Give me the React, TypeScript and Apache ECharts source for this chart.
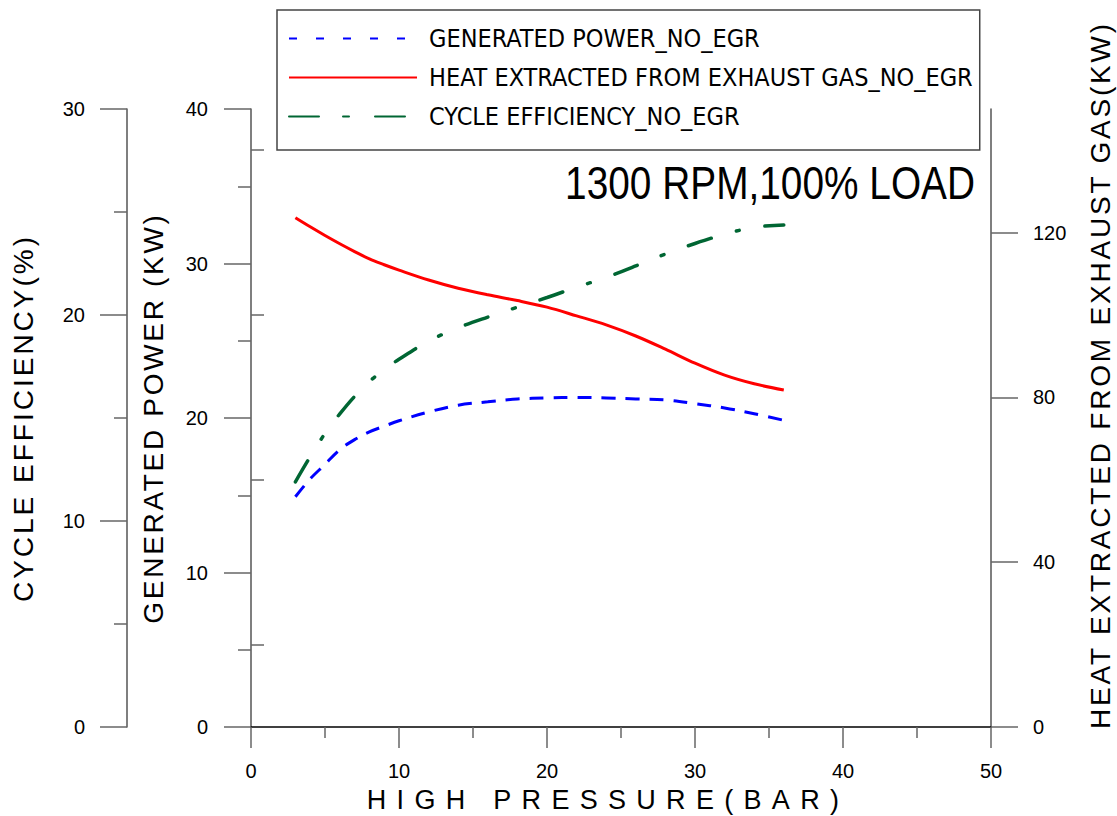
import React, { useEffect, useRef } from 'react';
import * as echarts from 'echarts';

// ---- data ----
const pressure = [3, 4, 5, 6, 7, 8, 9, 10, 12, 14, 16, 18, 20, 22, 24, 26, 28, 30, 32, 34, 36];
const generatedPower = [14.9, 16.06, 17.0, 17.95, 18.6, 19.1, 19.47, 19.82, 20.39, 20.83, 21.05, 21.23, 21.3, 21.33, 21.3, 21.23, 21.17, 20.93, 20.65, 20.28, 19.85];
const heatExtracted = [123.6, 121.4, 119.3, 117.3, 115.4, 113.6, 112.2, 110.9, 108.5, 106.5, 104.9, 103.5, 101.9, 99.8, 97.6, 94.9, 91.7, 88.3, 85.4, 83.3, 81.8];
const cycleEfficiency = [11.9, 13.12, 14.25, 15.2, 16.05, 16.77, 17.35, 17.85, 18.73, 19.38, 19.9, 20.38, 20.85, 21.35, 21.83, 22.38, 22.96, 23.47, 23.92, 24.26, 24.37];

const seriesNames = [
  'GENERATED POWER_NO_EGR',
  'HEAT EXTRACTED FROM EXHAUST GAS_NO_EGR',
  'CYCLE EFFICIENCY_NO_EGR',
];
const chartTitle = '1300 RPM,100% LOAD';
const xTitle = 'HIGH PRESSURE(BAR)';
const powerTitle = 'GENERATED POWER (KW)';
const effTitle = 'CYCLE EFFICIENCY(%)';
const heatTitle = 'HEAT EXTRACTED FROM EXHAUST GAS(KW)';

const heatLabelValues = [0, 40, 80, 120];
const heatMinorValues = [20, 60, 100, 140];

const NARROW = "'Liberation Sans Narrow', 'Arial Narrow', 'DejaVu Sans Condensed', sans-serif";
const SANS = "'Liberation Sans', Arial, sans-serif";

const letterSpacing: Record<string, number> = {
  [xTitle]: 10.3,
  [effTitle]: 3,
  [powerTitle]: 2.7,
  [heatTitle]: 2.8,
};

const pairs = (ys: number[]) => pressure.map((x, i) => [x, ys[i]]);

const AXIS_COLOR = '#555';
const TICK_COLOR = '#666';
const labelStyle = { fontFamily: SANS, fontSize: 20, color: '#000' };
const nameStyle = { fontFamily: SANS, fontSize: 28, color: '#000' };

export default function App() {
  const ref = useRef<HTMLDivElement>(null);

  useEffect(() => {
    const el = ref.current!;
    const chart = echarts.init(el, undefined, { renderer: 'svg' });

    const option: any = {
      animation: false,
      backgroundColor: '#fff',
      legend: {
        orient: 'vertical',
        left: 277,
        top: 10,
        padding: [16, 7, 21, 11],
        itemWidth: 128,
        itemHeight: 14,
        itemGap: 14,
        borderColor: '#444',
        borderWidth: 1.5,
        backgroundColor: '#fff',
        itemStyle: { opacity: 0, borderWidth: 0 },
        textStyle: { fontFamily: NARROW, fontSize: 25, color: '#000', lineHeight: 25, padding: [0, 0, 0, 7] },
        data: [
          { name: seriesNames[0], lineStyle: { type: [8, 19] } },
          { name: seriesNames[1] },
          { name: seriesNames[2], lineStyle: { type: [30, 24, 6, 26] } },
        ],
      },
      grid: { left: 251, right: 126, top: 109, bottom: 89, containLabel: false, outerBoundsMode: 'none' },
      xAxis: {
        type: 'value',
        min: 0,
        max: 50,
        interval: 10,
        name: xTitle,
        nameLocation: 'middle',
        nameGap: 59,
        nameTextStyle: { ...nameStyle, fontSize: 27, padding: [0, 26, 0, 0] },
        axisLine: { show: true, onZero: false, lineStyle: { color: '#000', width: 1.5 } },
        axisTick: { show: true, length: 21, lineStyle: { color: TICK_COLOR, width: 1.5 } },
        minorTick: { show: true, splitNumber: 2, length: 11, lineStyle: { color: TICK_COLOR, width: 1.5 } },
        axisLabel: { margin: 34, ...labelStyle },
        splitLine: { show: false },
      },
      yAxis: [
        {
          type: 'value',
          position: 'left',
          min: 0,
          max: 40,
          interval: 10,
          name: powerTitle,
          nameLocation: 'middle',
          nameRotate: 90,
          nameGap: 84,
          nameTextStyle: nameStyle,
          axisLine: { show: true, onZero: false, lineStyle: { color: AXIS_COLOR, width: 1.5 } },
          axisTick: { show: true, length: 27, lineStyle: { color: TICK_COLOR, width: 1.5 } },
          minorTick: { show: true, splitNumber: 2, length: 13, lineStyle: { color: TICK_COLOR, width: 1.5 } },
          axisLabel: { margin: 43, ...labelStyle },
          splitLine: { show: false },
        },
        {
          type: 'value',
          position: 'right',
          min: 0,
          max: 150,
          axisLine: { show: true, onZero: false, lineStyle: { color: AXIS_COLOR, width: 1.5 } },
          axisTick: { show: true, length: 27, customValues: heatLabelValues, lineStyle: { color: TICK_COLOR, width: 1.5 } },
          axisLabel: { margin: 42, customValues: heatLabelValues, ...labelStyle },
          splitLine: { show: false },
        },
        {
          type: 'value',
          position: 'left',
          offset: 124,
          min: 0,
          max: 30,
          interval: 10,
          name: effTitle,
          nameLocation: 'middle',
          nameRotate: 90,
          nameGap: 90,
          nameTextStyle: nameStyle,
          axisLine: { show: true, onZero: false, lineStyle: { color: AXIS_COLOR, width: 1.5 } },
          axisTick: { show: true, length: 27, lineStyle: { color: TICK_COLOR, width: 1.5 } },
          minorTick: { show: true, splitNumber: 2, length: 13, lineStyle: { color: TICK_COLOR, width: 1.5 } },
          axisLabel: { margin: 42, ...labelStyle },
          splitLine: { show: false },
        },
        {
          type: 'value',
          position: 'right',
          min: 0,
          max: 150,
          axisLine: { show: false },
          axisTick: { show: true, length: 13, customValues: heatMinorValues, lineStyle: { color: TICK_COLOR, width: 1.5 } },
          axisLabel: { show: false },
          splitLine: { show: false },
        },
      ],
      series: [
        {
          name: seriesNames[0],
          type: 'line',
          yAxisIndex: 0,
          data: pairs(generatedPower),
          smooth: 0.35,
          symbol: 'none',
          lineStyle: { color: '#0000ff', width: 3, type: [14, 10] },
          itemStyle: { color: '#0000ff' },
        },
        {
          name: seriesNames[1],
          type: 'line',
          yAxisIndex: 1,
          data: pairs(heatExtracted),
          smooth: 0.35,
          symbol: 'none',
          lineStyle: { color: '#ff0000', width: 3, type: 'solid' },
          itemStyle: { color: '#ff0000' },
        },
        {
          name: seriesNames[2],
          type: 'line',
          yAxisIndex: 2,
          data: pairs(cycleEfficiency),
          smooth: 0.35,
          symbol: 'none',
          lineStyle: { color: '#006633', width: 3.5, type: [24, 26, 3, 26], cap: 'round' },
          itemStyle: { color: '#006633' },
        },
      ],
      graphic: [
        {
          type: 'text',
          x: 975,
          y: 183,
          scaleX: 0.826,
          style: {
            text: chartTitle,
            fontFamily: SANS,
            fontSize: 47,
            fill: '#000',
            align: 'right',
            verticalAlign: 'middle',
          },
        },
        {
          type: 'text',
          x: 1100,
          y: 375,
          rotation: Math.PI / 2,
          style: {
            text: heatTitle,
            fontFamily: SANS,
            fontSize: 28,
            fill: '#000',
            align: 'center',
            verticalAlign: 'middle',
          },
        },
      ],
    };

    chart.setOption(option);

    const applySpacing = () => {
      el.querySelectorAll('text').forEach((t) => {
        const s = letterSpacing[(t.textContent || '').trim()];
        if (s != null) (t as SVGTextElement).style.letterSpacing = s + 'px';
      });
    };
    applySpacing();
    chart.on('finished', applySpacing);

    return () => {
      chart.dispose();
    };
  }, []);

  return (
    <div
      ref={ref}
      style={{ position: 'fixed', left: 0, top: 0, width: 1117, height: 816, background: '#fff' }}
    />
  );
}
